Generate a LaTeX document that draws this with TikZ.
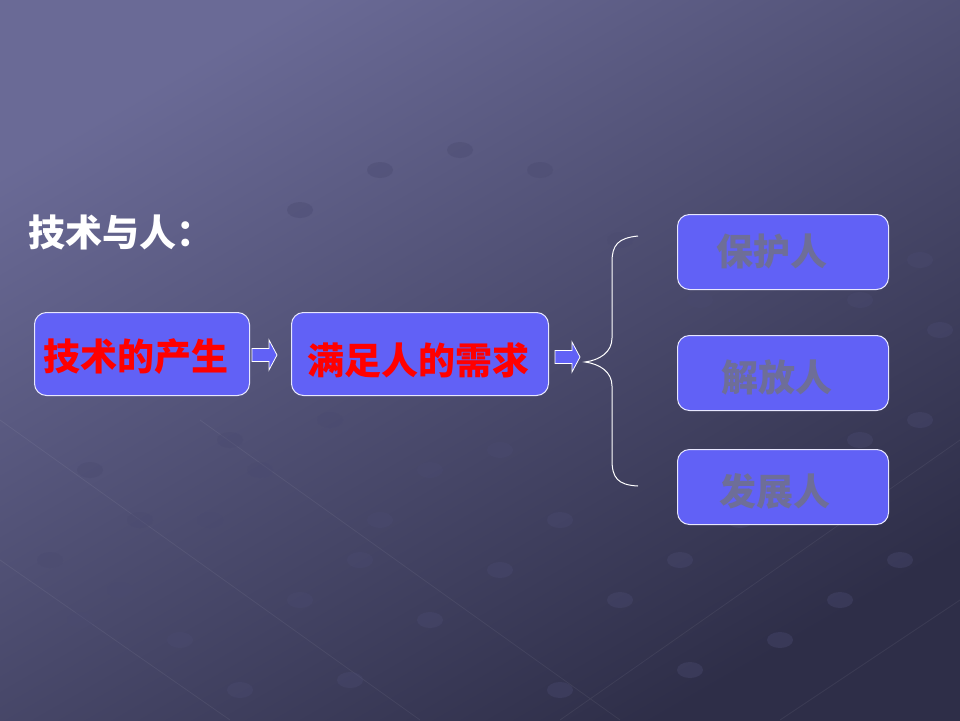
\documentclass[tikz,border=0pt]{standalone}
\usepackage{fontspec}
\newfontfamily\cjk{Noto Sans CJK SC}
\definecolor{bgtop}{HTML}{6A6A96}
\definecolor{bgbot}{HTML}{2E2E48}
\definecolor{boxfill}{HTML}{6161F6}
\definecolor{greytext}{HTML}{6E6E98}
\definecolor{dotc}{HTML}{4A4A70}
\tikzset{
  card/.style={draw=white!85!boxfill, line width=1pt, fill=boxfill, rounded corners=12pt},
  redtxt/.style={text=red, font=\cjk\bfseries\fontsize{37}{42}\selectfont},
  greytxt/.style={text=greytext, font=\cjk\bfseries\fontsize{37}{42}\selectfont},
  arrowbody/.style={draw=white, line width=0.8pt, fill=boxfill, line join=miter},
  blockarr/.pic={\draw[arrowbody] (0,-6.5) -- (17,-6.5) -- (17,-15) -- (25,0) -- (17,15) -- (17,6.5) -- (0,6.5) -- cycle;},
  bracepath/.style={draw=white, line width=1pt}
}
\begin{document}
\begin{tikzpicture}[x=1pt,y=-1pt]
\useasboundingbox (0,0) rectangle (960,720);
\shade[shading=axis, top color=bgtop, bottom color=bgbot, shading angle=30] (0,0) rectangle (960,720);
% faint texture lines and dots
\draw[white, opacity=0.06, line width=0.8pt] (0,420) -- (420,720) (0,560) -- (230,720) (200,420) -- (620,720) (560,720) -- (960,440) (780,720) -- (960,600);
\foreach \px/\py in {90/470,140/520,210/520,260/470,330/420,380/520,430/470,500/450,120/590,180/640,300/600,360/560,430/620,500/570,560/520,620/600,680/560,740/520,800/480,860/440,920/420,50/560,240/690,350/680,560/690,690/670,780/640,840/600,900/560,300/210,380/170,460/150,540/170,620/240,700/300,860/300,920/260,940/330,230/440,80/620}{
  \fill[dotc, opacity=0.4] (\px,\py) ellipse (13pt and 8pt);
}
\node[greytxt, anchor=base west, text=white, inner sep=0pt] (title) at (28,246) {技术与人：};
\node[card, minimum width=215pt, minimum height=83pt, anchor=north west] (b1) at (34,312) {};
\node[redtxt, inner sep=0pt] (t1) at (136,357) {技术的产生};
\node[card, minimum width=257pt, minimum height=83pt, anchor=north west] (b2) at (291,312) {};
\node[redtxt, inner sep=0pt] (t2) at (418,360) {满足人的需求};
\pic at (252,355) {blockarr};
\pic at (555,357) {blockarr};
\node[card, minimum width=211pt, minimum height=75pt, anchor=north west] (r1) at (677,214) {};
\node[card, minimum width=211pt, minimum height=75pt, anchor=north west] (r2) at (677,335) {};
\node[card, minimum width=211pt, minimum height=75pt, anchor=north west] (r3) at (677,449) {};
\node[greytxt, inner sep=0pt] (l1) at (772,252) {保护人};
\node[greytxt, inner sep=0pt] (l2) at (777,377) {解放人};
\node[greytxt, inner sep=0pt] (l3) at (775,491) {发展人};
\coordinate (btop) at (638,236);
\coordinate (bmid) at (585,362);
\coordinate (bbot) at (638,486);
\draw[bracepath] (btop) .. controls (618,238) and (612,245) .. (612,262)
  -- (612,338) .. controls (612,352) and (600,360) .. (bmid)
  .. controls (600,364) and (612,372) .. (612,386)
  -- (612,460) .. controls (612,478) and (618,485) .. (bbot);
\end{tikzpicture}
\end{document}
